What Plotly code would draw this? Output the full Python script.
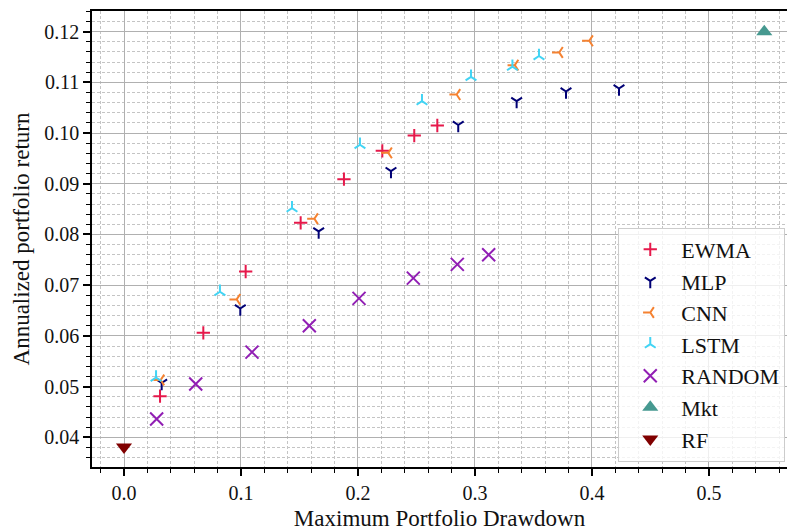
import plotly.graph_objects as go

# ---- data ----
ewma_x = [0.0308, 0.0678, 0.1040, 0.1510, 0.1880, 0.2208, 0.2481, 0.2678]
ewma_y = [0.0481, 0.0606, 0.0727, 0.0823, 0.0909, 0.0965, 0.0995, 0.1015]

mlp_x = [0.0322, 0.0994, 0.1664, 0.2282, 0.2857, 0.3356, 0.3778, 0.4231]
mlp_y = [0.0507, 0.0654, 0.0806, 0.0925, 0.1016, 0.1063, 0.1082, 0.1088]

cnn_x = [0.0313, 0.0963, 0.1627, 0.2259, 0.2843, 0.3340, 0.3720, 0.3977]
cnn_y = [0.0513, 0.0672, 0.0831, 0.0961, 0.1076, 0.1134, 0.1159, 0.1182]

lstm_x = [0.0274, 0.0820, 0.1436, 0.2017, 0.2547, 0.2966, 0.3320, 0.3547]
lstm_y = [0.0518, 0.0687, 0.0852, 0.0977, 0.1063, 0.1111, 0.1131, 0.1152]

random_x = [0.0279, 0.0613, 0.1094, 0.1584, 0.2009, 0.2473, 0.2849, 0.3117]
random_y = [0.0436, 0.0505, 0.0568, 0.0620, 0.0674, 0.0714, 0.0741, 0.0760]

mkt_x = [0.5473]
mkt_y = [0.1200]

rf_x = [0.0]
rf_y = [0.0381]

series = [
    ("EWMA", ewma_x, ewma_y, "cross-thin", "#e6194B", 9.5),
    ("MLP", mlp_x, mlp_y, "y-down", "#000075", 9),
    ("CNN", cnn_x, cnn_y, "y-left", "#f58231", 9),
    ("LSTM", lstm_x, lstm_y, "y-up", "#42d4f4", 9),
    ("RANDOM", random_x, random_y, "x-thin", "#911eb4", 13),
    ("Mkt", mkt_x, mkt_y, "triangle-up", "#469990", 14),
    ("RF", rf_x, rf_y, "triangle-down", "#800000", 14),
]

FONT = "Liberation Serif"

fig = go.Figure()
for name, xs, ys, sym, col, sz in series:
    filled = sym.startswith("triangle")
    fig.add_trace(go.Scatter(
        x=xs, y=ys, mode="markers", name=name, legendgroup=name,
        marker=dict(symbol=sym, size=sz, color=col,
                    line=dict(color=col, width=0 if filled else 2)),
    ))

grid_major = "#b0b0b0"
grid_minor = "#c4c4c4"

fig.update_layout(
    width=787, height=531,
    margin=dict(l=92, r=0, t=11, b=64),
    paper_bgcolor="white", plot_bgcolor="white",
    font=dict(family=FONT, size=20, color="#111"),
    showlegend=True,
    legend=dict(
        x=0.9975, y=0.012, xanchor="right", yanchor="bottom",
        bgcolor="rgba(255,255,255,0.8)", bordercolor="#cccccc", borderwidth=1,
        font=dict(family=FONT, size=22, color="#111"),
        tracegroupgap=0, itemwidth=52,
    ),
    xaxis=dict(
        range=[-0.02735, 0.5667],
        dtick=0.1, tick0=0, tickformat=".1f",
        showline=True, linecolor="black", linewidth=1.5, mirror=True,
        ticks="outside", ticklen=7, tickwidth=1.5, tickcolor="black",
        showgrid=True, gridcolor=grid_major, gridwidth=1.3,
        zeroline=False,
        minor=dict(dtick=0.02, tick0=0, ticks="outside", ticklen=4, tickwidth=1,
                   tickcolor="black", showgrid=True, gridcolor=grid_minor,
                   gridwidth=1, griddash="3px,2px"),
        title=dict(text="Maximum Portfolio Drawdown", font=dict(family=FONT, size=23, color="#111"), standoff=8),
        tickfont=dict(family=FONT, size=20, color="#111"),
    ),
    yaxis=dict(
        range=[0.03414, 0.12408],
        dtick=0.01, tick0=0, tickformat=".2f",
        showline=True, linecolor="black", linewidth=1.5, mirror=False,
        ticks="outside", ticklen=7, tickwidth=1.5, tickcolor="black",
        showgrid=True, gridcolor=grid_major, gridwidth=1.3,
        zeroline=False,
        minor=dict(dtick=0.002, tick0=0, ticks="outside", ticklen=4, tickwidth=1,
                   tickcolor="black", showgrid=True, gridcolor=grid_minor,
                   gridwidth=1, griddash="3px,2px"),
        title=dict(text="Annualized portfolio return", font=dict(family=FONT, size=23, color="#111"), standoff=8),
        tickfont=dict(family=FONT, size=20, color="#111"),
    ),
)

fig.write_html("out.html")
